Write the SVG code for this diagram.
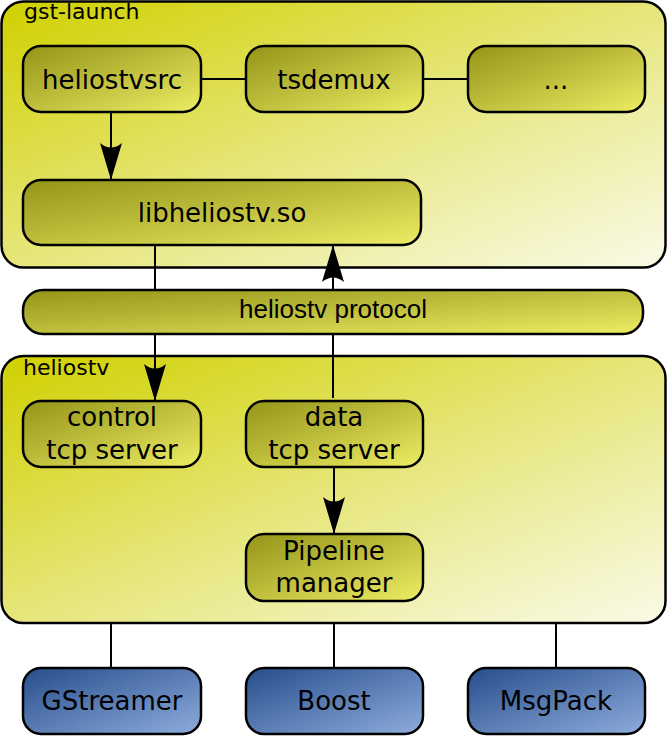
<svg xmlns="http://www.w3.org/2000/svg" width="667" height="736" viewBox="0 0 667 736">
<defs>
<linearGradient id="gCont" x1="0" y1="0" x2="1" y2="1">
<stop offset="0" stop-color="#d0d000"/>
<stop offset="0.5" stop-color="#e6e67a"/>
<stop offset="1" stop-color="#fafae8"/>
</linearGradient>
<linearGradient id="gNode" x1="0" y1="0" x2="1" y2="1">
<stop offset="0" stop-color="#949418"/>
<stop offset="1" stop-color="#ecec64"/>
</linearGradient>
<linearGradient id="gBlue" x1="0" y1="0" x2="1" y2="1">
<stop offset="0" stop-color="#264d8c"/>
<stop offset="1" stop-color="#8eacdc"/>
</linearGradient>
<marker id="arr" markerUnits="userSpaceOnUse" markerWidth="40" markerHeight="26" viewBox="-38 -13 40 26" refX="0" refY="0" orient="auto">
<path d="M0,0 L-37,-11 Q-28,0 -37,11 Z" fill="#000"/>
</marker>
</defs>
<style>
.cont{fill:url(#gCont);stroke:#000;stroke-width:2.5}
.node{fill:url(#gNode);stroke:#000;stroke-width:2.5}
.dep{fill:url(#gBlue);stroke:#000;stroke-width:2.5}
.t{font-family:"DejaVu Sans",sans-serif;font-size:26px;fill:#000;text-anchor:middle}
.lbl{font-family:"DejaVu Sans",sans-serif;font-size:22px;fill:#000}
.ln{stroke:#000;stroke-width:2;fill:none}
</style>
<g id="gst-launch">
<rect class="cont" x="1.5" y="1.5" width="664" height="266" rx="22"/>
<text class="lbl" x="24" y="19">gst-launch</text>
</g>
<g id="heliostv">
<rect class="cont" x="1.5" y="356" width="664" height="267" rx="22"/>
<text class="lbl" x="23" y="375">heliostv</text>
</g>
<g id="connectors">
<line class="ln" x1="201" y1="79" x2="246" y2="79"/>
<line class="ln" x1="423" y1="79" x2="468" y2="79"/>
<line class="ln" x1="111" y1="112" x2="111" y2="180" marker-end="url(#arr)"/>
<line class="ln" x1="155" y1="245" x2="155" y2="401" marker-end="url(#arr)"/>
<line class="ln" x1="333" y1="398" x2="333" y2="245" marker-end="url(#arr)"/>
<line class="ln" x1="334" y1="467" x2="334" y2="534" marker-end="url(#arr)"/>
<line class="ln" x1="111" y1="623" x2="111" y2="668"/>
<line class="ln" x1="334" y1="623" x2="334" y2="668"/>
<line class="ln" x1="556" y1="623" x2="556" y2="668"/>
</g>
<g id="heliostvsrc">
<rect class="node" x="23" y="46" width="178" height="66" rx="18"/>
<text class="t" x="112" y="89">heliostvsrc</text>
</g>
<g id="tsdemux">
<rect class="node" x="246" y="46" width="177" height="66" rx="18"/>
<text class="t" x="334" y="89">tsdemux</text>
</g>
<g id="more">
<rect class="node" x="468" y="46" width="177" height="66" rx="18"/>
<text class="t" x="556" y="89">...</text>
</g>
<g id="libheliostv">
<rect class="node" x="23" y="180" width="398" height="65" rx="18"/>
<text class="t" x="222" y="222">libheliostv.so</text>
</g>
<g id="protocol">
<rect class="node" x="23" y="290" width="620" height="44" rx="20"/>
<text class="t" x="333" y="318" style="font-family:'Liberation Sans',Arial,sans-serif;font-size:26px">heliostv protocol</text>
</g>
<g id="control">
<rect class="node" x="23" y="401" width="178" height="66" rx="18"/>
<text class="t" x="112" y="426">control</text>
<text class="t" x="112" y="459">tcp server</text>
</g>
<g id="data">
<rect class="node" x="246" y="401" width="177" height="66" rx="18"/>
<text class="t" x="334" y="426">data</text>
<text class="t" x="334" y="459">tcp server</text>
</g>
<g id="pipeline">
<rect class="node" x="246" y="534" width="177" height="67" rx="18"/>
<text class="t" x="334" y="560">Pipeline</text>
<text class="t" x="334" y="592">manager</text>
</g>
<g id="gstreamer">
<rect class="dep" x="23" y="668" width="178" height="66" rx="18"/>
<text class="t" x="112" y="710">GStreamer</text>
</g>
<g id="boost">
<rect class="dep" x="246" y="668" width="177" height="66" rx="18"/>
<text class="t" x="334" y="710">Boost</text>
</g>
<g id="msgpack">
<rect class="dep" x="468" y="668" width="177" height="66" rx="18"/>
<text class="t" x="556" y="710">MsgPack</text>
</g>
</svg>
